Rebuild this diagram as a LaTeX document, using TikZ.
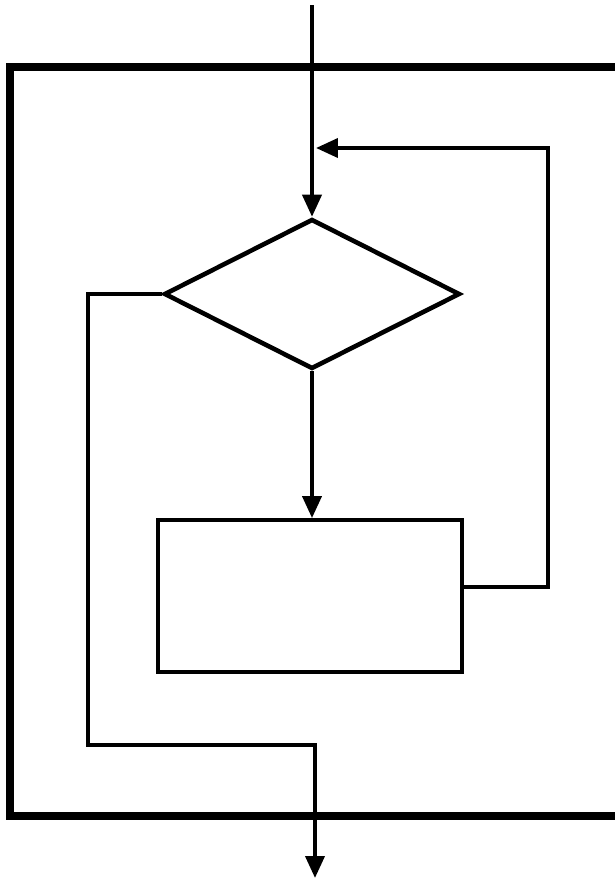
\documentclass[tikz,border=0pt]{standalone}
\usetikzlibrary{arrows.meta,shapes.geometric}

\begin{document}
\begin{tikzpicture}[x=0.02cm, y=-0.02cm,
                    flow/.style={line width=2.2pt, -{Triangle[length=0.44cm,width=0.38cm]}},
                    test node/.style={draw, diamond, line width=2.6pt, inner sep=0pt,
                                      minimum width=5.92cm, minimum height=3cm},
                    work node/.style={draw, rectangle, line width=2.2pt,
                                      minimum width=6.08cm, minimum height=3.04cm}]

  \clip (0,0) rectangle (615,880);
  \useasboundingbox (0,0) rectangle (615,880);

  % outer frame, runs off the right edge
  \draw[line width=4pt] (640,67) -- (10,67) -- (10,816) -- (640,816);

  \node[test node] (dec) at (312,294) {};
  \node[work node] (proc) at (310,596) {};

  \coordinate (in) at (312,5);
  \coordinate (join) at (316,148);
  \coordinate (loop) at (548,148);
  \coordinate (exit) at (88,745);
  \coordinate (out) at (315,878);

  \draw[flow] (in) -- (dec.north);
  \draw[flow] (dec.south) -- (dec.south |- proc.north);
  \draw[flow] ([yshift=0.18cm]proc.east) -| (loop) -- (join);
  \draw[flow] (dec.west) -| (exit) -| (out);
\end{tikzpicture}
\end{document}
